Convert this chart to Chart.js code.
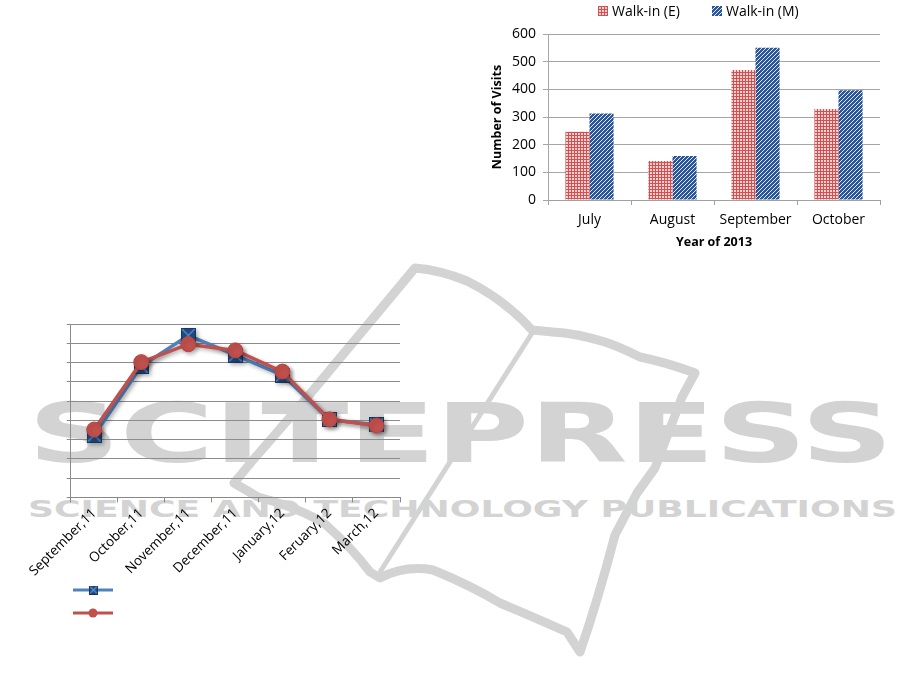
<!DOCTYPE html>
<html>
<head>
<meta charset="utf-8">
<script src="https://cdn.jsdelivr.net/npm/chart.js@4.4.1/dist/chart.umd.min.js"></script>
<style>
body { margin: 0; background: #fff; width: 915px; height: 693px; position: relative; overflow: hidden; font-family: 'Open Sans', sans-serif; }
#wm { position: absolute; left: 0; top: 0; }
.abs { position: absolute; }
.legText { position: absolute; font-size: 14px; color: #000; white-space: nowrap; line-height: 16px; }
</style>
</head>
<body>
<svg id="wm" width="915" height="693">
  <g fill="none" stroke="#d3d3d3" stroke-linejoin="round" stroke-linecap="round">
    <path stroke-width="9" d="M415,268 L305,400 L253,460 L234,483 L258,497 Q300,508 325,524 Q352,548 370,572 L380,578 Q405,565 433,570 Q470,585 500,603 Q540,620 567,632 L580,652 Q598,600 615,535 L637,493 L655,468 L682,397 L695,373 Q665,362 640,357 Q620,347 605,342 Q575,333 553,332 L532,330 Q505,300 467,281 Q440,270 415,268 Z"/>
    <path stroke-width="5" d="M534,330 L380,572"/>
  </g>
  <text x="28" y="462" fill="#d3d3d3" font-family="DejaVu Sans" font-weight="bold" font-size="82" textLength="865" lengthAdjust="spacingAndGlyphs">SCITEPRESS</text>
  <text x="28" y="517" fill="#d3d3d3" font-family="DejaVu Sans" font-weight="bold" font-size="23" textLength="869" lengthAdjust="spacingAndGlyphs">SCIENCE AND TECHNOLOGY PUBLICATIONS</text>
</svg>

<canvas id="barChart" class="abs" style="left:490px;top:0px" width="420" height="260"></canvas>
<canvas id="lineChart" class="abs" style="left:0px;top:300px" width="420" height="300"></canvas>

<canvas id="legE" class="abs" style="left:598px;top:6px" width="10" height="10"></canvas>
<div class="legText" style="left:612px;top:3px">Walk-in (E)</div>
<canvas id="legM" class="abs" style="left:712px;top:6px" width="10" height="10"></canvas>
<div class="legText" style="left:726px;top:3px">Walk-in (M)</div>

<canvas id="legBlue" class="abs" style="left:71px;top:583px" width="44" height="14"></canvas>
<canvas id="legRed" class="abs" style="left:71px;top:606px" width="44" height="14"></canvas>

<script>
// bar chart data (top right)
const barCategories = ['July', 'August', 'September', 'October'];
const walkInE = [247, 141, 470, 329];
const walkInM = [313, 159, 550, 397];
const barMax = 600, barStep = 100;

// line chart data (bottom left), y axis has no labels in the source
const lineCategories = ['September,11', 'October,11', 'November,11', 'December,11', 'January,12', 'Feruary,12', 'March,12'];
const seriesBlue = [32.3, 68.0, 84.1, 73.9, 63.5, 40.4, 37.6];
const seriesRed = [35.2, 70.2, 79.5, 76.3, 65.3, 40.5, 37.3];
const lineMax = 90, lineStep = 10;

const FONT = "'Open Sans', sans-serif";

function redPattern(ctx) {
    const t = document.createElement('canvas');
    t.width = 3; t.height = 3;
    const c = t.getContext('2d');
    c.fillStyle = '#f6d2d2';
    c.fillRect(0, 0, 3, 3);
    c.fillStyle = '#d45050';
    c.fillRect(0, 0, 3, 1);
    c.fillRect(0, 0, 1, 3);
    return ctx.createPattern(t, 'repeat');
}

function bluePattern(ctx) {
    const t = document.createElement('canvas');
    t.width = 4; t.height = 4;
    const c = t.getContext('2d');
    c.fillStyle = '#2a5597';
    c.fillRect(0, 0, 4, 4);
    c.fillStyle = '#e4ecf6';
    c.fillRect(3, 0, 1, 1);
    c.fillRect(2, 1, 1, 1);
    c.fillRect(1, 2, 1, 1);
    c.fillRect(0, 3, 1, 1);
    return ctx.createPattern(t, 'repeat');
}

function squareMarker(size) {
    const t = document.createElement('canvas');
    t.width = size; t.height = size;
    const c = t.getContext('2d');
    c.fillStyle = '#1f4a80';
    c.fillRect(0, 0, size, size);
    c.strokeStyle = '#5d8fd0';
    c.lineWidth = 1.2;
    c.beginPath();
    c.moveTo(1, 1); c.lineTo(size - 1, size - 1);
    c.moveTo(size - 1, 1); c.lineTo(1, size - 1);
    c.stroke();
    c.strokeStyle = '#17375f';
    c.lineWidth = 1;
    c.strokeRect(0.5, 0.5, size - 1, size - 1);
    return t;
}

const shadowPlugin = {
    id: 'shadow',
    beforeDatasetsDraw(chart) {
        const ctx = chart.ctx;
        ctx.save();
        ctx.shadowColor = 'rgba(0,0,0,0.3)';
        ctx.shadowBlur = 4;
        ctx.shadowOffsetX = 2;
        ctx.shadowOffsetY = 2;
    },
    afterDatasetsDraw(chart) { chart.ctx.restore(); }
};

function drawBar() {
    const ctx = document.getElementById('barChart').getContext('2d');
    const pE = redPattern(ctx), pM = bluePattern(ctx);
    new Chart(ctx, {
        type: 'bar',
        data: {
            labels: barCategories,
            datasets: [
                { label: 'Walk-in (E)', data: walkInE, backgroundColor: pE, borderWidth: 0, categoryPercentage: 0.58, barPercentage: 1 },
                { label: 'Walk-in (M)', data: walkInM, backgroundColor: pM, borderWidth: 0, categoryPercentage: 0.58, barPercentage: 1 }
            ]
        },
        options: {
            responsive: false, animation: false,
            layout: { padding: { top: 34, right: 30, left: 0, bottom: 0 } },
            plugins: { legend: { display: false }, tooltip: { enabled: false } },
            scales: {
                x: {
                    grid: { drawOnChartArea: false, drawTicks: true, tickLength: 5, color: '#a0a0a0', offset: true },
                    border: { color: '#a0a0a0' },
                    ticks: { color: '#000', font: { size: 14, family: FONT }, padding: 7 },
                    title: { display: true, text: 'Year of 2013', color: '#000', font: { size: 12.5, weight: 'bold', family: FONT }, padding: { top: 0, bottom: 10 } },
                    afterFit: s => { s.height = 60; }
                },
                y: {
                    min: 0, max: barMax,
                    ticks: { stepSize: barStep, color: '#000', font: { size: 14, family: FONT }, padding: 7 },
                    grid: { color: '#a6a6a6', tickLength: 5 },
                    border: { color: '#a6a6a6' },
                    title: { display: true, text: 'Number of Visits', color: '#000', font: { size: 12.5, weight: 'bold', family: FONT }, padding: { top: 0, bottom: 2 } },
                    afterFit: s => { s.width = 58; }
                }
            }
        }
    });
    // legend swatches
    const lE = document.getElementById('legE').getContext('2d');
    lE.fillStyle = redPattern(lE); lE.fillRect(0, 0, 10, 10);
    const lM = document.getElementById('legM').getContext('2d');
    lM.fillStyle = bluePattern(lM); lM.fillRect(0, 0, 10, 10);
}

function drawLine() {
    const ctx = document.getElementById('lineChart').getContext('2d');
    new Chart(ctx, {
        type: 'line',
        data: {
            labels: lineCategories,
            datasets: [
                { data: seriesRed, borderColor: '#c0504d', borderWidth: 3.5, tension: 0, order: 0,
                  pointStyle: 'circle', pointRadius: 7.5, pointBackgroundColor: '#c0504d', pointBorderColor: '#b8463f', pointBorderWidth: 1 },
                { data: seriesBlue, borderColor: '#4f81bd', borderWidth: 3.5, tension: 0, order: 1,
                  pointStyle: squareMarker(15), pointRadius: 7.5 }
            ]
        },
        options: {
            responsive: false, animation: false,
            layout: { padding: { top: 24, right: 20, left: 0, bottom: 0 } },
            plugins: { legend: { display: false }, tooltip: { enabled: false } },
            scales: {
                x: {
                    offset: true,
                    grid: { offset: true, drawOnChartArea: false, tickLength: 5, color: '#888' },
                    border: { color: '#888' },
                    ticks: { minRotation: 45, maxRotation: 45, autoSkip: false, color: '#000', font: { size: 13.5, family: FONT }, padding: 3 },
                    afterFit: s => { s.height = 102.6; }
                },
                y: {
                    min: 0, max: lineMax,
                    ticks: { stepSize: lineStep, display: false },
                    grid: { color: '#8c8c8c', tickLength: 4 },
                    border: { color: '#8c8c8c' },
                    afterFit: s => { s.width = 70.7; }
                }
            }
        },
        plugins: [shadowPlugin]
    });

    // legend icons without text, like the source
    const b = document.getElementById('legBlue').getContext('2d');
    b.strokeStyle = '#4f81bd'; b.lineWidth = 3;
    b.beginPath(); b.moveTo(2, 7); b.lineTo(42, 7); b.stroke();
    b.drawImage(squareMarker(9), 18, 2.5);
    const r = document.getElementById('legRed').getContext('2d');
    r.strokeStyle = '#c0504d'; r.lineWidth = 3;
    r.beginPath(); r.moveTo(2, 7); r.lineTo(42, 7); r.stroke();
    r.fillStyle = '#c0504d';
    r.beginPath(); r.arc(22, 7, 4.5, 0, Math.PI * 2); r.fill();
}

window.onload = () => { drawBar(); drawLine(); };
</script>
</body>
</html>
